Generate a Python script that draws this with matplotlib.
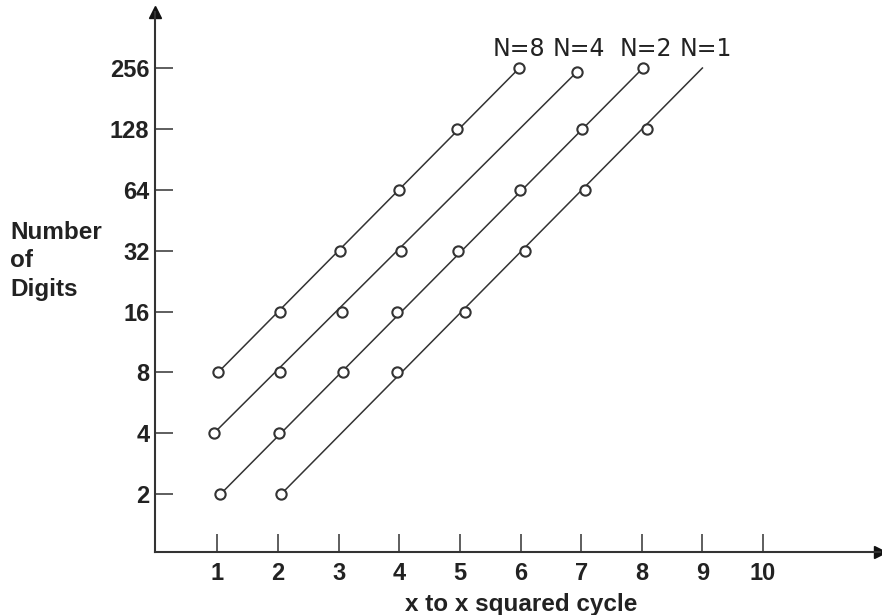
import matplotlib
matplotlib.use('Agg')
import matplotlib.pyplot as plt

plt.rcParams['font.family'] = ['Liberation Sans', 'DejaVu Sans']

# values (x = cycle, y = number of digits)
n8_x = [1.01, 2.03, 3.03, 4.00, 4.96, 5.98]
n8_y = [8, 16, 32, 64, 128, 256]
n4_x = [0.94, 2.04, 3.05, 4.02, 6.93]
n4_y = [4, 8, 16, 32, 245]
n2_x = [1.05, 2.02, 3.07, 3.97, 4.97, 5.99, 7.01, 8.02]
n2_y = [2, 4, 8, 16, 32, 64, 128, 256]
n1_x = [2.05, 3.97, 5.08, 6.07, 7.07, 8.09]
n1_y = [2, 8, 16, 32, 64, 128]
n1_line_end = (9.0, 256)

labels = ['N=8', 'N=4', 'N=2', 'N=1']
label_x = [5.98, 6.97, 8.06, 9.05]

x_ticks = [1, 2, 3, 4, 5, 6, 7, 8, 9, 10]
y_ticks = [2, 4, 8, 16, 32, 64, 128, 256]

ink = '#333333'

fig = plt.figure(figsize=(8.82, 6.15), dpi=100)
ax = fig.add_axes([155 / 882, 63 / 615, 725 / 882, 540 / 615])
ax.set_yscale('log', base=2)
ax.set_xlim(-0.03, 11.93)
ax.set_ylim(2 ** 0.05, 2 ** 8.92)

series = [(n8_x, n8_y, (n8_x[-1], n8_y[-1])),
          (n4_x, n4_y, (n4_x[-1], n4_y[-1])),
          (n2_x, n2_y, (n2_x[-1], n2_y[-1])),
          (n1_x, n1_y, n1_line_end)]

for xs, ys, end in series:
    ax.plot([xs[0], end[0]], [ys[0], end[1]], color=ink, lw=1.1, zorder=2)
    ax.plot(xs, ys, 'o', ms=7.4, mfc='white', mec=ink, mew=1.5, zorder=3)

for lab, lx in zip(labels, label_x):
    ax.text(lx, 2 ** 8.31, lab, ha='center', va='center', fontsize=17,
            family='DejaVu Sans', color='#222222')

# axes with arrows
for s in ['top', 'right']:
    ax.spines[s].set_visible(False)
for s in ['left', 'bottom']:
    ax.spines[s].set_color(ink)
    ax.spines[s].set_linewidth(1.5)
ax.plot(1, 0, '>', color='#111111', ms=9, transform=ax.transAxes, clip_on=False)
ax.plot(0, 1, '^', color='#111111', ms=9, transform=ax.transAxes, clip_on=False)

ax.set_xticks(x_ticks)
ax.set_xticklabels([str(v) for v in x_ticks])
ax.set_yticks(y_ticks)
ax.set_yticklabels([str(v) for v in y_ticks])
ax.minorticks_off()
ax.tick_params(axis='both', direction='in', length=13, width=1.1, color=ink,
               labelsize=17, labelcolor='#222222')
ax.tick_params(axis='x', pad=7)
ax.tick_params(axis='y', pad=4)
for t in ax.get_xticklabels() + ax.get_yticklabels():
    t.set_fontweight('bold')

fig.text(521 / 882, 1 - 604 / 615, 'x to x squared cycle', ha='center', va='center',
         fontsize=17.5, fontweight='bold', color='#222222')
fig.text(10 / 882, 1 - 261 / 615, 'Number\nof\nDigits', ha='left', va='center',
         fontsize=17.5, fontweight='bold', color='#222222', linespacing=1.3)

fig.savefig('out.png', dpi=100)
